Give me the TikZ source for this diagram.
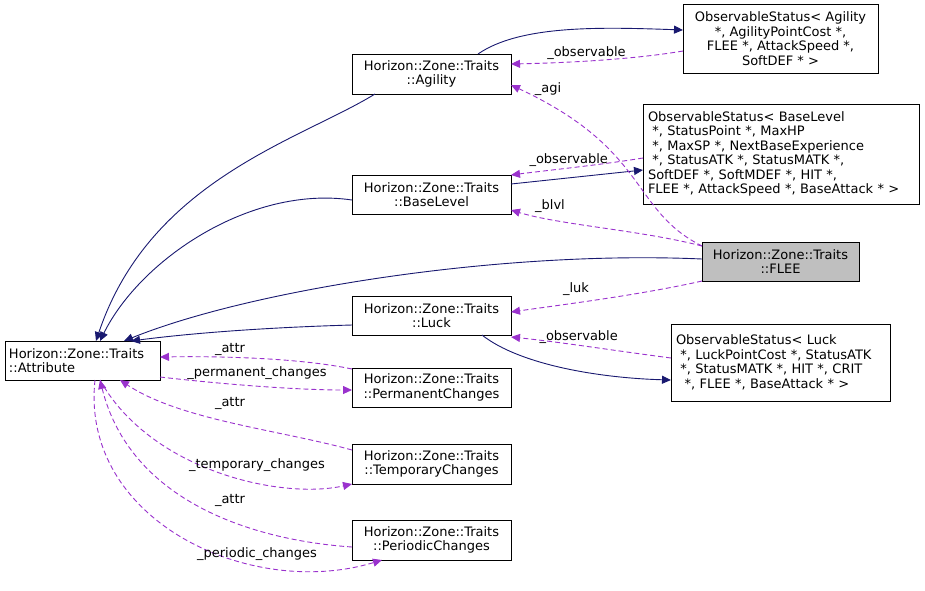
\documentclass[tikz,border=0pt]{standalone}
\usepackage{fontspec}
\setmainfont{DejaVu Sans}
\usetikzlibrary{arrows.meta}
\begin{document}
\begin{tikzpicture}[x=1pt,y=-1pt,
 box/.style={draw=black,fill=white,inner sep=2pt,align=center,font=\fontsize{13}{14.5}\selectfont},
 inh/.style={draw={rgb,255:red,25;green,25;blue,112},line width=0.9pt,-{Triangle[length=9pt,width=8pt]}},
 use/.style={draw={rgb,255:red,154;green,50;blue,205},dash pattern=on 5pt off 3pt,line width=0.9pt,-{Triangle[length=9pt,width=8pt]}},
 lab/.style={font=\fontsize{13}{14.5}\selectfont,inner sep=1pt}]
\useasboundingbox (0,0) rectangle (925,590);
\node[box,minimum width=155pt,minimum height=39pt,text width=147pt,align=left] (attr) at (82.5,360.5) {Horizon::Zone::Traits\\::Attribute};
\node[box,minimum width=159pt,minimum height=40pt] (ag) at (431.5,74) {Horizon::Zone::Traits\\::Agility};
\node[box,minimum width=195pt,minimum height=69pt] (oag) at (780.5,38.5) {ObservableStatus\textless{} Agility\\ *, AgilityPointCost *,\\ FLEE *, AttackSpeed *,\\ SoftDEF * \textgreater};
\node[box,minimum width=159pt,minimum height=39pt] (bl) at (431.5,194.5) {Horizon::Zone::Traits\\::BaseLevel};
\node[box,minimum width=276pt,minimum height=100pt,text width=266pt,align=left] (obl) at (781,154) {ObservableStatus\textless{} BaseLevel\\ \ *, StatusPoint *, MaxHP\\ \ *, MaxSP *, NextBaseExperience\\ \ *, StatusATK *, StatusMATK *,\\ SoftDEF *, SoftMDEF *, HIT *,\\ FLEE *, AttackSpeed *, BaseAttack * \textgreater};
\node[box,fill={rgb,255:red,191;green,191;blue,191},minimum width=157pt,minimum height=39pt] (fl) at (780.5,261.5) {Horizon::Zone::Traits\\::FLEE};
\node[box,minimum width=159pt,minimum height=39pt] (lk) at (431.5,315.5) {Horizon::Zone::Traits\\::Luck};
\node[box,minimum width=219pt,minimum height=77pt,text width=209pt,align=left] (olk) at (780.5,362.5) {ObservableStatus\textless{} Luck\\ \ *, LuckPointCost *, StatusATK\\ \ *, StatusMATK *, HIT *, CRIT\\ \ \ *, FLEE *, BaseAttack * \textgreater};
\node[box,minimum width=159pt,minimum height=39pt] (pc) at (431.5,387.5) {Horizon::Zone::Traits\\::PermanentChanges};
\node[box,minimum width=159pt,minimum height=40pt] (tc) at (431.5,464) {Horizon::Zone::Traits\\::TemporaryChanges};
\node[box,minimum width=159pt,minimum height=40pt] (prc) at (431.5,540) {Horizon::Zone::Traits\\::PeriodicChanges};
% inheritance
\draw[inh] (375,94) .. controls (300,140) and (150,180) .. (96,341);
\draw[inh] (352,200) .. controls (250,185) and (140,260) .. (100,341);
\draw[inh] (702,259) .. controls (500,250) and (250,290) .. (124,341);
\draw[inh] (352,325) .. controls (280,327) and (200,332) .. (131,341);
\draw[inh] (478,54) .. controls (520,25) and (600,27) .. (683,30);
\draw[inh] (511,184) -- (643,170);
\draw[inh] (482,335) .. controls (520,365) and (600,378) .. (671,380);
% usage
\draw[use] (683,51) .. controls (630,60) and (560,63) .. (511,64) node[lab,pos=0.55,above] {\_observable};
\draw[use] (643,158) .. controls (600,165) and (550,170) .. (511,175) node[lab,pos=0.55,above] {\_observable};
\draw[use] (671,358) .. controls (610,350) and (560,342) .. (511,337) node[lab,pos=0.55,above] {\_observable};
\draw[use] (702,246) .. controls (630,210) and (650,150) .. (511,85);
\node[lab] at (548,89) {\_agi};
\draw[use] (702,246) .. controls (640,230) and (560,225) .. (511,210);
\node[lab] at (550,206) {\_blvl};
\draw[use] (702,281) .. controls (640,295) and (560,305) .. (511,312);
\node[lab] at (576,289) {\_luk};
\draw[use] (352,369) .. controls (300,358) and (220,356) .. (160,357);
\node[lab] at (230,349) {\_attr};
\draw[use] (160,377) .. controls (230,385) and (300,390) .. (352,390);
\node[lab] at (257,373) {\_permanent\_changes};
\draw[use] (352,450) .. controls (280,430) and (180,420) .. (120,380);
\node[lab] at (230,403) {\_attr};
\draw[use] (100,380) .. controls (150,470) and (280,500) .. (352,484);
\node[lab] at (257,465) {\_temporary\_changes};
\draw[use] (352,547) .. controls (250,540) and (130,500) .. (100,380);
\node[lab] at (230,500) {\_attr};
\draw[use] (95,380) .. controls (80,520) and (250,600) .. (382,560);
\node[lab] at (257,554) {\_periodic\_changes};
\end{tikzpicture}
\end{document}
